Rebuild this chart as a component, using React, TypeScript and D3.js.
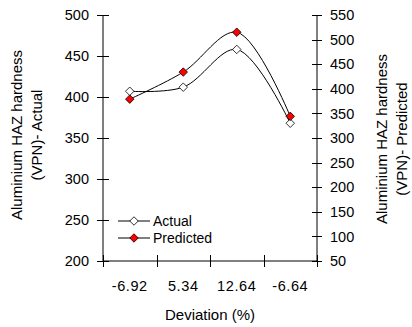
import React, { useRef, useEffect } from "react";
import * as d3 from "d3";

// data
const deviations = ["-6.92", "5.34", "12.64", "-6.64"];
const actualValues = [407, 412, 458, 368];
const predictedValues = [379, 434, 515, 344];
const leftTicks = [200, 250, 300, 350, 400, 450, 500];
const rightTicks = [50, 100, 150, 200, 250, 300, 350, 400, 450, 500, 550];

const FONT = "'Liberation Sans', Arial, sans-serif";

const App = () => {
  const svgRef = useRef<SVGSVGElement>(null);

  useEffect(() => {
    const width = 412,
      height = 327;
    const plot = { left: 103, right: 317, top: 15, bottom: 261 };

    const root = d3.select(svgRef.current);
    root.selectAll("*").remove();
    const svg = root.attr("width", width).attr("height", height);

    // scales
    const xScale = d3
      .scaleBand()
      .domain(deviations)
      .range([plot.left, plot.right]);
    const xPos = (d: string) => (xScale(d) as number) + xScale.bandwidth() / 2;

    const yLeft = d3.scaleLinear().domain([200, 500]).range([plot.bottom, plot.top]);
    const yRight = d3.scaleLinear().domain([50, 550]).range([plot.bottom, plot.top]);

    const axisColor = "#000";

    // left axis
    const left = svg.append("g");
    left
      .append("line")
      .attr("x1", plot.left)
      .attr("x2", plot.left)
      .attr("y1", plot.top)
      .attr("y2", plot.bottom)
      .attr("stroke", axisColor);
    left
      .selectAll(".lt")
      .data(leftTicks)
      .enter()
      .append("line")
      .attr("x1", plot.left - 6)
      .attr("x2", plot.left + 6)
      .attr("y1", (d) => Math.round(yLeft(d)) + 0.5)
      .attr("y2", (d) => Math.round(yLeft(d)) + 0.5)
      .attr("stroke", axisColor);
    left
      .selectAll(".ll")
      .data(leftTicks)
      .enter()
      .append("text")
      .attr("x", plot.left - 14)
      .attr("y", (d) => yLeft(d))
      .attr("dy", "0.36em")
      .attr("text-anchor", "end")
      .style("font", `14.5px ${FONT}`)
      .text((d) => d);

    // right axis
    const right = svg.append("g");
    right
      .append("line")
      .attr("x1", plot.right)
      .attr("x2", plot.right)
      .attr("y1", plot.top)
      .attr("y2", plot.bottom)
      .attr("stroke", axisColor);
    right
      .selectAll(".rt")
      .data(rightTicks)
      .enter()
      .append("line")
      .attr("x1", plot.right - 5)
      .attr("x2", plot.right + 5)
      .attr("y1", (d) => Math.round(yRight(d)) + 0.5)
      .attr("y2", (d) => Math.round(yRight(d)) + 0.5)
      .attr("stroke", axisColor);
    right
      .selectAll(".rl")
      .data(rightTicks)
      .enter()
      .append("text")
      .attr("x", plot.right + 13)
      .attr("y", (d) => yRight(d))
      .attr("dy", "0.36em")
      .attr("text-anchor", "start")
      .style("font", `14.5px ${FONT}`)
      .text((d) => d);

    // bottom axis
    const bottom = svg.append("g");
    bottom
      .append("line")
      .attr("x1", plot.left)
      .attr("x2", plot.right)
      .attr("y1", plot.bottom)
      .attr("y2", plot.bottom)
      .attr("stroke", axisColor);
    const bounds = deviations.map((d) => xScale(d) as number).concat([plot.right]);
    bottom
      .selectAll(".bt")
      .data(bounds)
      .enter()
      .append("line")
      .attr("x1", (d) => Math.round(d) + 0.5)
      .attr("x2", (d) => Math.round(d) + 0.5)
      .attr("y1", plot.bottom - 6)
      .attr("y2", plot.bottom + 6)
      .attr("stroke", axisColor);
    bottom
      .selectAll(".bl")
      .data(deviations)
      .enter()
      .append("text")
      .attr("x", (d) => xPos(d))
      .attr("y", 286)
      .attr("dy", "0.36em")
      .attr("text-anchor", "middle")
      .style("font", `14.5px ${FONT}`)
      .style("letter-spacing", "0.6px")
      .text((d) => d);

    // axis titles
    svg
      .append("text")
      .attr("x", (plot.left + plot.right) / 2)
      .attr("y", 315)
      .attr("dy", "0.36em")
      .attr("text-anchor", "middle")
      .style("font", `15px ${FONT}`)
      .text("Deviation (%)");

    const leftTitle = svg
      .append("text")
      .attr("transform", "translate(22,135) rotate(-90)")
      .attr("text-anchor", "middle")
      .style("font", `15px ${FONT}`);
    leftTitle.append("tspan").attr("x", 0).attr("y", 0).text("Aluminium HAZ hardness");
    leftTitle.append("tspan").attr("x", 0).attr("y", 20).text("(VPN)- Actual");

    const rightTitle = svg
      .append("text")
      .attr("transform", "translate(387,139) rotate(-90)")
      .attr("text-anchor", "middle")
      .style("font", `15px ${FONT}`);
    rightTitle.append("tspan").attr("x", 0).attr("y", 0).text("Aluminium HAZ hardness");
    rightTitle.append("tspan").attr("x", 0).attr("y", 20).text("(VPN)- Predicted");

    // series lines (smoothed like the original)
    const series = [
      { name: "Actual", values: actualValues, scale: yLeft, fill: "#ffffff" },
      { name: "Predicted", values: predictedValues, scale: yRight, fill: "#ff0000" },
    ];

    const diamond = d3.symbol().type(d3.symbolDiamond2).size(46);

    series.forEach((s) => {
      const line = d3
        .line<number>()
        .x((_, i) => xPos(deviations[i]))
        .y((v) => s.scale(v))
        .curve(d3.curveCatmullRom.alpha(0.5));

      svg
        .append("path")
        .datum(s.values)
        .attr("d", line)
        .attr("fill", "none")
        .attr("stroke", "#000")
        .attr("stroke-width", 1);

      svg
        .selectAll(null)
        .data(s.values)
        .enter()
        .append("path")
        .attr("d", diamond)
        .attr("transform", (v, i) => `translate(${xPos(deviations[i])},${s.scale(v)})`)
        .attr("fill", s.fill)
        .attr("stroke", "#000")
        .attr("stroke-width", 0.8);
    });

    // legend
    const legend = svg.append("g").attr("transform", "translate(118,221)");
    series.forEach((s, i) => {
      const g = legend.append("g").attr("transform", `translate(0,${i * 17})`);
      g.append("line")
        .attr("x1", 0)
        .attr("x2", 32)
        .attr("y1", 0)
        .attr("y2", 0)
        .attr("stroke", "#000");
      g.append("path")
        .attr("d", diamond)
        .attr("transform", "translate(16,0)")
        .attr("fill", s.fill)
        .attr("stroke", "#000")
        .attr("stroke-width", 0.8);
      g.append("text")
        .attr("x", 35)
        .attr("y", 0)
        .attr("dy", "0.36em")
        .style("font", `14px ${FONT}`)
        .text(s.name);
    });
  }, []);

  return <svg ref={svgRef} style={{ position: "absolute", left: 0, top: 0 }}></svg>;
};

export default App;
